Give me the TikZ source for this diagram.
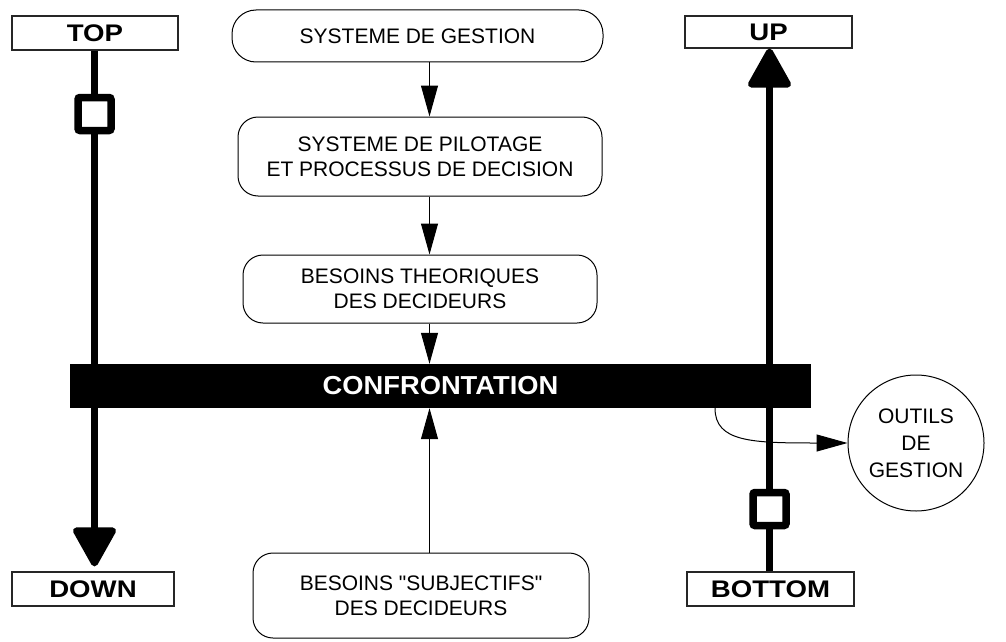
\documentclass[tikz,border=0pt]{standalone}
\usepackage{fontspec}
\setmainfont{Liberation Sans}[Ligatures=TeXOff]
\newfontfamily\labfont[FakeStretch=1.15]{Liberation Sans}
\newfontfamily\barfont[FakeStretch=1.05]{Liberation Sans}
\usetikzlibrary{arrows.meta}
\begin{document}
\begin{tikzpicture}[x=1pt,y=-1pt,
  labbox/.style={draw=black!85, line width=1.2pt, fill=white, inner sep=0pt,
    font=\labfont\bfseries\fontsize{24}{26}\selectfont},
  rbox/.style={draw=black, line width=1pt, rounded corners=20pt, inner sep=0pt, align=center,
    font=\fontsize{21}{25}\selectfont},
  sqbox/.style={draw=black, fill=white, line width=7.5pt, rounded corners=2pt,
    minimum size=33pt, inner sep=0pt},
  thickline/.style={line width=7pt, line cap=butt},
  bigtip/.style={-{Triangle[length=43pt,width=46pt,round]}},
  thinarrow/.style={line width=1pt, -{Triangle[length=31pt,width=17pt]}}]
\useasboundingbox (0,0) rectangle (1006,642);
% label boxes
\node[labbox, minimum width=166pt, minimum height=34pt] (top) at (95,33) {TOP};
\node[labbox, minimum width=162pt, minimum height=34pt] (down) at (93,589) {DOWN};
\node[labbox, minimum width=167pt, minimum height=32pt] (up) at (768.5,32) {UP};
\node[labbox, minimum width=167pt, minimum height=34pt] (bottom) at (770.5,589) {BOTTOM};
\coordinate (lx) at (94.5,0);
\coordinate (rx) at (769.5,0);
% squares
\node[sqbox] (sq1) at (94.5,114) {};
\node[sqbox] (sq2) at (769.5,509) {};
% thick lines
\draw[thickline] (top.south -| lx) -- (sq1.north);
\draw[thickline, bigtip, shorten >=5pt] (sq1.south) -- (down.north -| lx);
\draw[thickline] (bottom.north -| rx) -- (sq2.south);
\draw[thickline, bigtip] (sq2.north) -- (up.south -| rx);
% central boxes
\node[rbox, rounded corners=24pt, minimum width=371pt, minimum height=52pt] (g1) at (417.5,36) {SYSTEME DE GESTION};
\node[rbox, minimum width=364pt, minimum height=79pt] (g2) at (420,156.5) {SYSTEME DE PILOTAGE\\ET PROCESSUS DE DECISION};
\node[rbox, minimum width=354pt, minimum height=68pt] (g3) at (420,289) {BESOINS THEORIQUES\\DES DECIDEURS};
\node[rbox, minimum width=336pt, minimum height=85pt] (g4) at (421,595.5) {BESOINS "SUBJECTIFS"\\DES DECIDEURS};
% bar
\node[fill=black, minimum width=741pt, minimum height=44pt, inner sep=0pt, text=white,
  font=\barfont\bfseries\fontsize{26}{28}\selectfont] (bar) at (440.5,386) {CONFRONTATION};
% circle
\node[circle, draw=black, line width=1pt, minimum size=136pt, inner sep=0pt, align=center,
  font=\fontsize{21}{27}\selectfont] (outils) at (916,443) {OUTILS\\DE\\GESTION};
% thin arrows
\coordinate (ax) at (429.5,0);
\draw[thinarrow] (g1.south -| ax) -- (g2.north -| ax);
\draw[thinarrow] (g2.south -| ax) -- (g3.north -| ax);
\draw[thinarrow] (g3.south -| ax) -- (bar.north -| ax);
\draw[thinarrow] (g4.north -| ax) -- (bar.south -| ax);
\coordinate (cx) at (715,0);
\draw[thinarrow] (bar.south -| cx) .. controls +(0,34) and +(-95,0) .. (outils.west);
\end{tikzpicture}
\end{document}
